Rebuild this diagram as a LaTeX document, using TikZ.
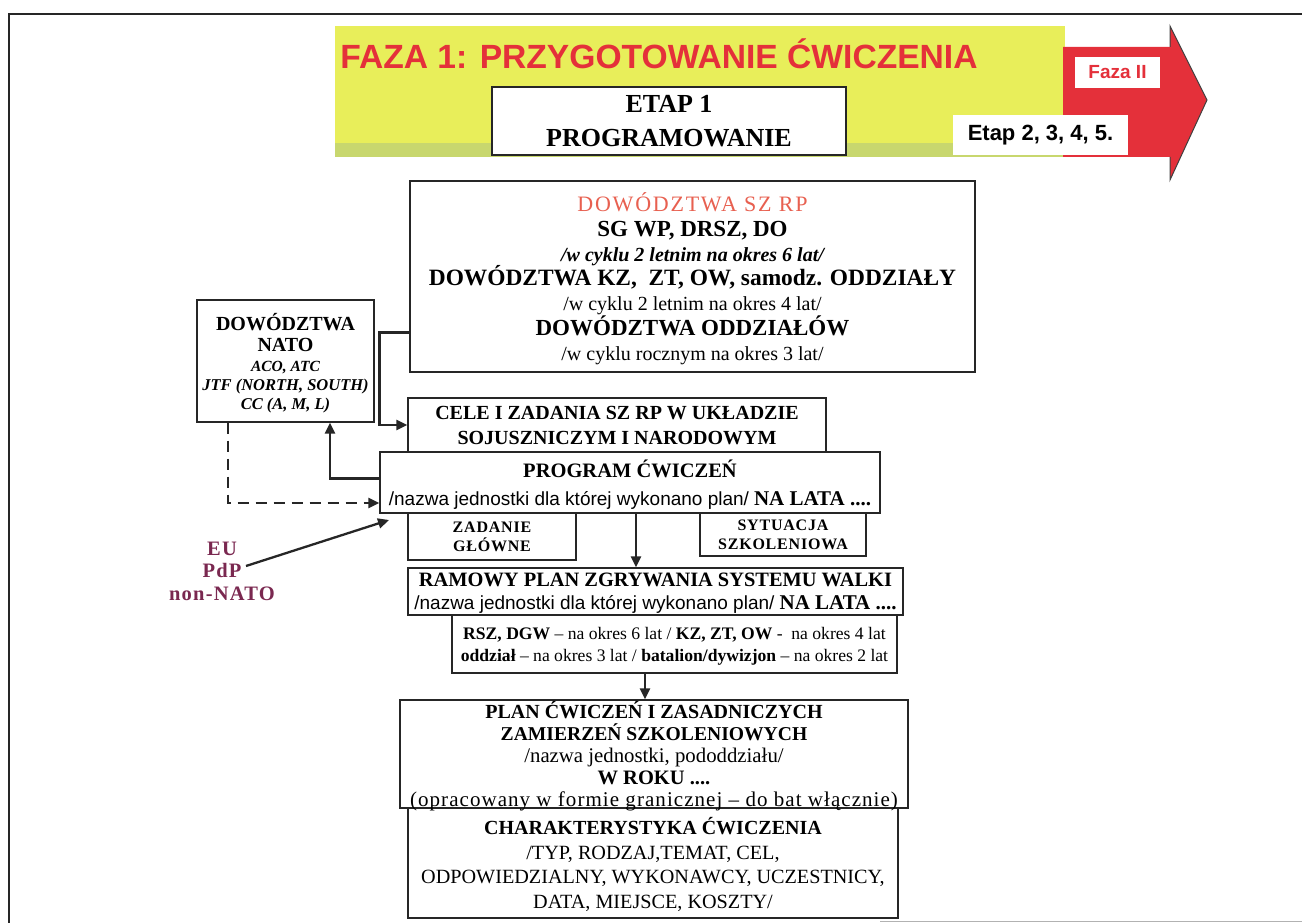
\documentclass[tikz,border=0pt]{standalone}
\usepackage{fontspec}
\setmainfont{Liberation Serif}
\setsansfont{Liberation Sans}
\newfontfamily\lsserif[LetterSpace=8]{Liberation Serif}
\newfontfamily\eufont[LetterSpace=6]{Liberation Serif}
\newfontfamily\smallcapsserif[LetterSpace=5]{Liberation Serif}
\usetikzlibrary{arrows.meta,calc}
\definecolor{fazared}{RGB}{228,48,58}
\definecolor{dowred}{RGB}{232,96,80}
\definecolor{eucol}{RGB}{122,40,80}
\definecolor{bandyellow}{RGB}{232,238,90}
\definecolor{bandgreen}{RGB}{200,215,110}
\newcommand{\fs}[2]{\fontsize{#1}{#2}\selectfont}
\begin{document}
\begin{tikzpicture}[x=1pt,y=-1pt,
  box/.style={draw=black!85, line width=1.2pt, fill=white, inner sep=0pt, align=center},
  conn/.style={line width=2.3pt, black!85, -{Triangle[length=11pt,width=10pt]}},
  dconn/.style={line width=2.3pt, black!85, dash pattern=on 11pt off 7pt, -{Triangle[length=11pt,width=10pt]}}]
\useasboundingbox (0,0) rectangle (1302,923);
% frame
\draw[black!85, line width=1.6pt] (9,923) -- (9,14) -- (1302,14);
\draw[black!30, line width=1pt] (880,921.5) -- (1302,921.5);
% yellow band
\fill[bandyellow] (335,26) rectangle (1065,157);
\fill[bandgreen] (335,143) rectangle (1065,157);
% red arrow
\fill[fazared] (1063,47) -- (1170,47) -- (1170,26) -- (1207,100) -- (1170,180) -- (1170,157) -- (1063,157) -- cycle;
\draw[black!75, line width=1pt] (1170,47) -- (1170,26) -- (1207,100) -- (1170,180) -- (1170,157);
% title texts
\node[font=\sffamily\bfseries\fs{33.6}{36}, text=fazared] (title) at (659,54) {FAZA 1: PRZYGOTOWANIE ĆWICZENIA};
\node[box, draw=none, minimum width=85, minimum height=31, font=\sffamily\bfseries\fs{19}{22}, text=fazared] (faza2) at (1117.5,72.5) {Faza II};
\node[box, draw=none, minimum width=175, minimum height=40, font=\sffamily\bfseries\fs{22}{24}] (etap2) at (1040.5,135) {Etap 2, 3, 4, 5.};
\node[box, minimum width=354, minimum height=68, font=\bfseries\fs{26}{34}] (etap1) at (669,121) {ETAP 1\\PROGRAMOWANIE};
% main boxes
\node[box, minimum width=565, minimum height=191, font=\fs{20}{24.8}, text depth=-7pt] (dow) at (692.5,276.5) {%
{\color{dowred}\lsserif\fs{22}{25}DOWÓDZTWA SZ RP}\\
{\bfseries\fs{23}{25}SG WP, DRSZ, DO}\\
{\bfseries\itshape\fs{20}{25}/w cyklu 2 letnim na okres 6 lat/}\\
{\bfseries\fs{23.4}{25}DOWÓDZTWA KZ,\ \ ZT, OW, samodz. ODDZIAŁY}\\
/w cyklu 2 letnim na okres 4 lat/\\
{\bfseries\fs{23}{25}DOWÓDZTWA ODDZIAŁÓW}\\
/w cyklu rocznym na okres 3 lat/};
\node[box, minimum width=177, minimum height=122, font=\bfseries\fs{20}{19}, text depth=-2.4pt] (nato) at (285.5,361) {%
DOWÓDZTWA\\[2pt]NATO\\[1pt]
{\itshape\fs{15.5}{19}ACO, ATC}\\
{\itshape\fs{16.5}{19}JTF (NORTH, SOUTH)}\\
{\itshape\fs{16.5}{19}CC (A, M, L)}};
\node[box, minimum width=418, minimum height=54, font=\bfseries\fs{20}{25}, text depth=-7pt] (cele) at (617,425) {CELE I ZADANIA SZ RP W UKŁADZIE\\SOJUSZNICZYM I NARODOWYM};
\node[box, minimum width=500, minimum height=61, font=\fs{20}{28}, text depth=0.5pt] (prog) at (630,482.5) {%
{\bfseries\fs{20.5}{28}PROGRAM ĆWICZEŃ}\\
{\sffamily\fs{19}{28}/nazwa jednostki dla której wykonano plan/} {\bfseries\fs{21}{28}NA LATA ....}};
\node[box, minimum width=168, minimum height=47, font=\smallcapsserif\bfseries\fs{16}{19}] (zad) at (492,536.5) {ZADANIE\\GŁÓWNE};
\node[box, minimum width=166, minimum height=43, font=\smallcapsserif\bfseries\fs{16}{19}] (syt) at (783,534.5) {SYTUACJA\\SZKOLENIOWA};
\node[box, minimum width=495, minimum height=47, font=\fs{20.4}{23}, text depth=-4.5pt] (ram) at (655.5,591.5) {%
{\bfseries RAMOWY PLAN ZGRYWANIA SYSTEMU WALKI}\\
{\sffamily\fs{19}{23}/nazwa jednostki dla której wykonano plan/} {\bfseries\fs{21}{23}NA LATA ....}};
\node[box, minimum width=445, minimum height=58, font=\fs{17.6}{22}, text depth=-2.3pt] (small) at (674.5,644) {%
\textbf{RSZ, DGW} – na okres 6 lat / \textbf{KZ, ZT, OW} -\ \ na okres 4 lat\\
\textbf{oddział} – na okres 3 lat / \textbf{batalion/dywizjon} – na okres 2 lat};
\node[box, minimum width=490, minimum height=110, font=\fs{20.2}{24.5}, text depth=-3.6pt] (char) at (653,863) {%
{\bfseries\fs{20}{24.5}CHARAKTERYSTYKA ĆWICZENIA}\\
/TYP, RODZAJ,TEMAT, CEL,\\
ODPOWIEDZIALNY, WYKONAWCY, UCZESTNICY,\\
DATA, MIEJSCE, KOSZTY/};
\node[box, minimum width=508, minimum height=108, font=\fs{20.8}{21.8}, text depth=-7.5pt] (plan) at (654,754) {%
{\bfseries\fs{20}{22}PLAN ĆWICZEŃ I ZASADNICZYCH}\\
{\bfseries\fs{19.6}{22}ZAMIERZEŃ SZKOLENIOWYCH}\\
/nazwa jednostki, pododdziału/\\
{\bfseries\fs{20.5}{22}W ROKU ....}\\
{\smallcapsserif\fs{21}{22}(opracowany w formie granicznej – do bat włącznie)}};
\node[align=center, text=eucol, font=\eufont\bfseries\fs{20.5}{22.5}] (eu) at (222,571) {EU\\PdP\\non-NATO};
% connectors
\coordinate (eustart) at (246,566);
\coordinate (euend) at (389,520);
\draw[conn] ([yshift=-56pt]dow.west) -- ++(-30,0) |- (cele.west);
\draw[conn] ([yshift=4pt]prog.west) -| ([xshift=44.5pt]nato.south);
\draw[dconn] ([xshift=-57.5pt]nato.south) |- ([yshift=-20.5pt]prog.west);
\draw[conn] (eustart) -- (euend);
\draw[conn] ([xshift=6pt]prog.south) -- ([xshift=6pt]prog.south |- ram.north);
\draw[conn] ([xshift=-9pt]plan.north |- small.south) -- ([xshift=-9pt]plan.north);
\end{tikzpicture}
\end{document}
